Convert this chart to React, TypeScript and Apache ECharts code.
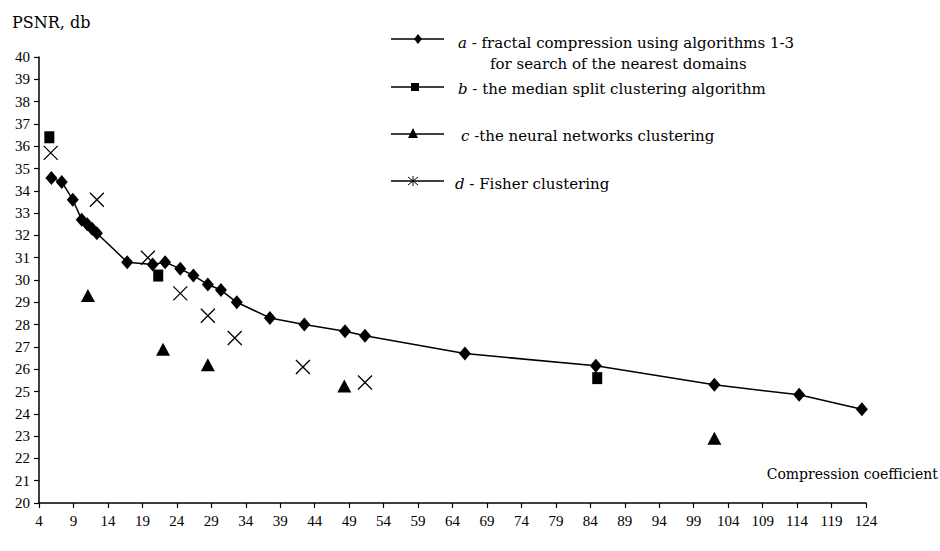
import React, { useEffect, useRef } from "react";
import * as echarts from "echarts";

// ---- Data ----
const xMin = 4;
const xMax = 124;
const xStep = 5;
const yMin = 20;
const yMax = 40;
const yStep = 1;

// a - fractal compression (diamonds, joined by a line)
const aX = [5.8, 7.3, 8.9, 10.2, 11.0, 11.7, 12.4, 16.8, 20.5, 22.3, 24.5, 26.4, 28.5, 30.4, 32.7, 37.5, 42.5, 48.4, 51.3, 65.8, 84.8, 102.0, 114.3, 123.4];
const aY = [34.57, 34.4, 33.6, 32.7, 32.5, 32.3, 32.1, 30.8, 30.7, 30.8, 30.5, 30.2, 29.8, 29.55, 29.0, 28.3, 28.0, 27.7, 27.5, 26.7, 26.15, 25.3, 24.85, 24.2];

// b - median split clustering (squares)
const bX = [5.5, 21.3, 85.0];
const bY = [36.4, 30.2, 25.6];

// c - neural networks clustering (triangles)
const cX = [11.1, 22.0, 28.5, 48.3, 102.0];
const cY = [29.3, 26.9, 26.2, 25.25, 22.9];

// d - Fisher clustering (crosses)
const dX = [5.7, 12.4, 19.8, 24.5, 28.5, 32.4, 42.3, 51.3];
const dY = [35.7, 33.6, 31.0, 29.4, 28.4, 27.4, 26.1, 25.4];

const yTitle = "PSNR, db";
const xTitle = "Compression coefficient";
const legendLetters = ["a", "b", "c", "d"];
const legendTexts = [
  " - fractal compression using algorithms 1-3",
  " - the median split clustering algorithm",
  " -the neural networks clustering",
  " - Fisher clustering",
];
const legendSecondLine = "for search of the nearest domains";

const zip = (xs: number[], ys: number[]) => xs.map((x, i) => [x, ys[i]]);

const FONT = "DejaVu Serif";
const NUMFONT = "Liberation Serif";
const BLACK = "#000";

const crossPath = "path://M0 0 L10 10 M10 0 L0 10";

function legendItem(idx: number, y: number, textY: number, textX: number, marker: any) {
  return [
    {
      type: "line",
      shape: { x1: 391, y1: y, x2: 444, y2: y },
      style: { stroke: BLACK, lineWidth: 1.3 },
    },
    marker,
    {
      type: "text",
      x: textX,
      y: textY,
      style: {
        text: `{i|${legendLetters[idx]}}${legendTexts[idx]}`,
        fill: BLACK,
        font: `15px '${FONT}'`,
        verticalAlign: "middle",
        rich: {
          i: { fontStyle: "italic", fontFamily: FONT, fontSize: 15, fill: BLACK },
        },
      },
    },
  ];
}

export default function App() {
  const ref = useRef<HTMLDivElement>(null);
  useEffect(() => {
    if (!ref.current) return;
    const chart = echarts.init(ref.current, null, { renderer: "svg" });
    const legendGraphics: any[] = [
      ...legendItem(0, 39, 43, 458, {
        type: "polygon",
        shape: { points: [[418, 34], [422, 39], [418, 44], [414, 39]] },
        style: { fill: BLACK },
      }),
      {
        type: "text",
        x: 490,
        y: 64,
        style: { text: legendSecondLine, fill: BLACK, font: `15px '${FONT}'`, verticalAlign: "middle" },
      },
      ...legendItem(1, 87, 89, 458, {
        type: "rect",
        shape: { x: 411, y: 83, width: 8, height: 8 },
        style: { fill: BLACK },
      }),
      ...legendItem(2, 134, 136, 461, {
        type: "polygon",
        shape: { points: [[413, 128], [418, 138], [408, 138]] },
        style: { fill: BLACK },
      }),
      ...legendItem(3, 181, 184, 455, {
        type: "group",
        children: [
          { type: "line", shape: { x1: 408, y1: 177, x2: 413, y2: 181 }, style: { stroke: BLACK, lineWidth: 1 } },
          { type: "line", shape: { x1: 408, y1: 185, x2: 413, y2: 181 }, style: { stroke: BLACK, lineWidth: 1 } },
          { type: "line", shape: { x1: 418, y1: 177, x2: 413, y2: 181 }, style: { stroke: BLACK, lineWidth: 1 } },
          { type: "line", shape: { x1: 418, y1: 185, x2: 413, y2: 181 }, style: { stroke: BLACK, lineWidth: 1 } },
          { type: "line", shape: { x1: 413, y1: 176, x2: 413, y2: 186 }, style: { stroke: BLACK, lineWidth: 1 } },
        ],
      }),
      {
        type: "text",
        x: 12,
        y: 22,
        style: { text: yTitle, fill: BLACK, font: `16px '${FONT}'`, verticalAlign: "middle" },
      },
      {
        type: "text",
        x: 938,
        y: 474,
        style: { text: xTitle, fill: BLACK, font: `14px '${FONT}'`, align: "right", verticalAlign: "middle" },
      },
    ];

    const axisCommon = {
      type: "value" as const,
      axisLine: { show: true, lineStyle: { color: BLACK, width: 1.5 } },
      axisTick: { show: true, length: 5, lineStyle: { color: BLACK, width: 1.2 } },
      splitLine: { show: false },
    };

    chart.setOption({
      animation: false,
      backgroundColor: "#fff",
      grid: { left: 39, right: 74, top: 57, bottom: 48, containLabel: false },
      xAxis: {
        ...axisCommon,
        min: xMin,
        max: xMax,
        interval: xStep,
        axisLabel: { color: BLACK, fontFamily: NUMFONT, fontSize: 15, margin: 10 },
      },
      yAxis: {
        ...axisCommon,
        min: yMin,
        max: yMax,
        interval: yStep,
        axisLabel: { color: BLACK, fontFamily: NUMFONT, fontSize: 15, margin: 9 },
      },
      series: [
        {
          name: "a",
          type: "line",
          data: zip(aX, aY),
          symbol: "diamond",
          symbolSize: [12, 14],
          lineStyle: { color: BLACK, width: 1.5 },
          itemStyle: { color: BLACK },
          z: 3,
        },
        {
          name: "b",
          type: "scatter",
          data: zip(bX, bY),
          symbol: "rect",
          symbolSize: [10, 12],
          itemStyle: { color: BLACK, opacity: 1 },
          z: 4,
        },
        {
          name: "c",
          type: "scatter",
          data: zip(cX, cY),
          symbol: "triangle",
          symbolSize: [14, 13],
          itemStyle: { color: BLACK, opacity: 1 },
          z: 4,
        },
        {
          name: "d",
          type: "scatter",
          data: zip(dX, dY),
          symbol: crossPath,
          symbolSize: 14,
          itemStyle: { color: "none", borderColor: BLACK, borderWidth: 1.3, opacity: 1 },
          z: 4,
        },
      ],
      graphic: legendGraphics,
    });
    return () => chart.dispose();
  }, []);
  return (
    <div
      ref={ref}
      style={{ position: "fixed", left: 0, top: 0, width: 940, height: 551, background: "#fff" }}
    />
  );
}
